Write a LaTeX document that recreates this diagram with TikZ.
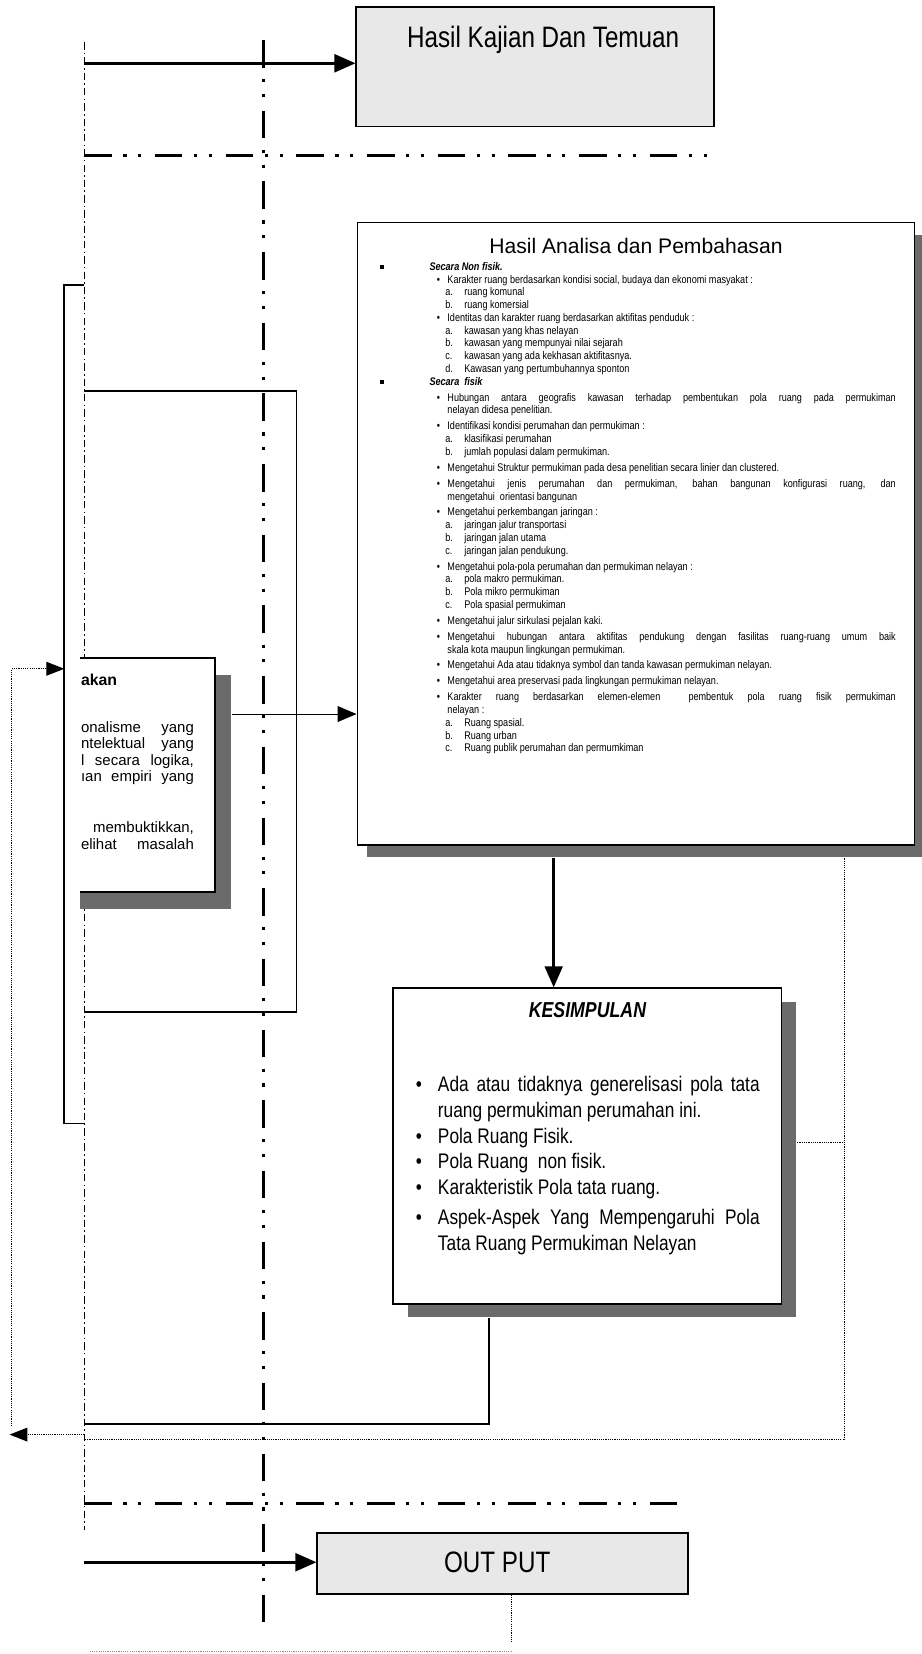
\documentclass[tikz,border=0pt]{standalone}
\usepackage{fontspec}
\setmainfont{Liberation Sans}
\newfontfamily\narrowsans{Liberation Sans}[FakeStretch=0.82]
\usetikzlibrary{arrows.meta,shadows}

\newcommand\listfont{\narrowsans\fontsize{10.5}{12.1}\selectfont\tolerance=10000\hbadness=10000}
\newcommand\kesfont{\narrowsans\fontsize{20}{24.5}\selectfont\tolerance=10000\hbadness=10000}
\newcommand\secitem[1]{\par\noindent\strut\makebox[48pt][l]{\hspace{1pt}\rule[1.5pt]{3.5pt}{3.5pt}}\textbf{\textit{#1}}}
\newcommand\dotitem[2][0pt]{\par\vspace{#1}\hangindent=65pt\hangafter=1\noindent\strut\hspace*{55pt}\makebox[10pt][l]{\textbullet}#2}
\newcommand\abcitem[2]{\par\noindent\strut\hspace*{63pt}\makebox[18pt][l]{#1}#2}
\newcommand\kesitem[2][\strut]{\par\hangindent=21pt\hangafter=1\noindent#1\makebox[21pt][l]{\textbullet}#2}
\newcommand\cutrow[1]{\leavevmode\hbox to 107pt{#1}}

\begin{document}
\begin{tikzpicture}[x=1pt,y=-1pt,
    box/.style={draw,line width=1.8pt,fill=white,inner sep=0pt,anchor=north west},
    greybox/.style={box,fill=black!9},
    dropshade/.style 2 args={drop shadow={shadow xshift=#1,shadow yshift=#2,fill=black!58,opacity=1}},
    dashdotdot/.style={line width=2.8pt,dash pattern=on 26pt off 11pt on 3pt off 11pt on 3pt off 13pt},
    cutline/.style={line width=0.6pt,dash pattern=on 7pt off 3pt on 1.5pt off 3pt},
    frameline/.style={line width=1.7pt},
    bigarrow/.style={line width=2.4pt,-{Triangle[length=20pt,width=17pt]}},
    thinarrow/.style={line width=1pt,-{Triangle[length=18pt,width=15pt]}},
    dotline/.style={line width=1.1pt,densely dotted},
    dotarrow/.style={dotline,-{Triangle[length=17pt,width=13pt]}}]
  \useasboundingbox (0,0) rectangle (874,1568);

  % lines across the sheet
  \draw[cutline] (80,40) -- (80,1450);
  \draw[dashdotdot] (80,147) -- (680,147);
  \draw[dashdotdot] (80,1425) -- (650,1425);
  \draw[dashdotdot] (250,38) -- (250,1540);

  % frames of the cut-off part
  \draw[frameline] (80,270) -- (61,270) -- (61,1065) -- (80,1065);
  \draw[frameline] (80,371) -| (281,959) -- (80,959);

  % boxes
  \node[greybox,minimum width=339pt,minimum height=113pt] (kajian) at (337,6) {};
  \node[anchor=base,font=\narrowsans\fontsize{28}{32}\selectfont] (kajianteks)
    at ([xshift=7.5pt,yshift=-39pt]kajian.north) {Hasil Kajian Dan Temuan};

  \node[box,dropshade={9pt}{-12pt},minimum width=528pt,minimum height=590pt] (analisa) at (338,210) {};
  \node[anchor=base,font=\fontsize{20}{24}\selectfont] (analisajudul)
    at ([yshift=-30pt]analisa.north) {Hasil Analisa dan Pembahasan};
  \node[anchor=north west,inner sep=0pt,text width=490pt,align=justify,font=\listfont] (analisaisi) at (359,244) {%
    \secitem{Secara Non fisik.}
    \dotitem{Karakter ruang berdasarkan kondisi social, budaya dan ekonomi masyakat :}
    \abcitem{a.}{ruang komunal}
    \abcitem{b.}{ruang komersial}
    \dotitem{Identitas dan karakter ruang berdasarkan aktifitas penduduk :}
    \abcitem{a.}{kawasan yang khas nelayan}
    \abcitem{b.}{kawasan yang mempunyai nilai sejarah}
    \abcitem{c.}{kawasan yang ada kekhasan aktifitasnya.}
    \abcitem{d.}{Kawasan yang pertumbuhannya sponton}
    \secitem{Secara\ \ fisik}
    \dotitem[3pt]{Hubungan antara geografis kawasan terhadap pembentukan pola ruang pada permukiman\linebreak nelayan didesa penelitian.}
    \dotitem[3pt]{Identifikasi kondisi perumahan dan permukiman :}
    \abcitem{a.}{klasifikasi perumahan}
    \abcitem{b.}{jumlah populasi dalam permukiman.}
    \dotitem[3pt]{Mengetahui Struktur permukiman pada desa penelitian secara linier dan clustered.}
    \dotitem[3pt]{Mengetahui jenis perumahan dan permukiman, bahan bangunan konfigurasi ruang, dan\linebreak mengetahui\ \ orientasi bangunan}
    \dotitem[3pt]{Mengetahui perkembangan jaringan :}
    \abcitem{a.}{jaringan jalur transportasi}
    \abcitem{b.}{jaringan jalan utama}
    \abcitem{c.}{jaringan jalan pendukung.}
    \dotitem[3pt]{Mengetahui pola-pola perumahan dan permukiman nelayan :}
    \abcitem{a.}{pola makro permukiman.}
    \abcitem{b.}{Pola mikro permukiman}
    \abcitem{c.}{Pola spasial permukiman}
    \dotitem[3pt]{Mengetahui jalur sirkulasi pejalan kaki.}
    \dotitem[3pt]{Mengetahui hubungan antara aktifitas pendukung dengan fasilitas ruang-ruang umum baik\linebreak skala kota maupun lingkungan permukiman.}
    \dotitem[3pt]{Mengetahui Ada atau tidaknya symbol dan tanda kawasan permukiman nelayan.}
    \dotitem[3pt]{Mengetahui area preservasi pada lingkungan permukiman nelayan.}
    \dotitem[3pt]{Karakter ruang berdasarkan elemen-elemen\ \ pembentuk pola ruang fisik permukiman\linebreak nelayan\ :}
    \abcitem{a.}{Ruang spasial.}
    \abcitem{b.}{Ruang urban}
    \abcitem{c.}{Ruang publik perumahan dan permumkiman}\par};

  \begin{scope}
    \clip (76,600) rectangle (240,880);
    \node[box,dropshade={15pt}{-16pt},minimum width=163pt,minimum height=222pt] (akanbox) at (40,623) {};
  \end{scope}
  \node[anchor=north east,inner sep=0pt,text width=108pt,align=right,font=\fontsize{14.2}{15.7}\selectfont] (akanteks) at (184,639) {%
    \cutrow{\strut\fontsize{15}{15.7}\selectfont\bfseries akan\hfill}\\[28.3pt]
    \cutrow{onalisme\hfill yang}\\
    \cutrow{ntelektual\hfill yang}\\
    \cutrow{l\hfill secara\hfill logika,}\\
    \cutrow{ıan\hfill empiri\hfill yang}\\[32.3pt]
    membuktikkan,\\
    \cutrow{elihat\hfill masalah}};

  \node[box,dropshade={14pt}{-13pt},minimum width=368pt,minimum height=299pt] (kesimpulan) at (372,936) {};
  \node[anchor=base,font=\narrowsans\bfseries\itshape\fontsize{20.5}{24}\selectfont] (kesjudul)
    at ([yshift=-29pt]kesimpulan.north) {KESIMPULAN};
  \node[anchor=north west,inner sep=0pt,text width=326pt,align=justify,font=\kesfont] (kesisi) at (394,1010) {%
    \kesitem{Ada atau tidaknya generelisasi pola tata\linebreak ruang permukiman perumahan ini.}
    \kesitem{Pola Ruang Fisik.}
    \kesitem{Pola Ruang\ \ non fisik.}
    \kesitem{Karakteristik Pola tata ruang.}
    \kesitem[\rule{0pt}{20.15pt}]{Aspek-Aspek Yang Mempengaruhi Pola\linebreak Tata Ruang Permukiman Nelayan}\par};

  \node[greybox,minimum width=351pt,minimum height=58pt] (output) at (300,1452) {};
  \node[anchor=base,font=\narrowsans\fontsize{28}{32}\selectfont] (outputteks)
    at ([xshift=-5pt,yshift=-39pt]output.north) {OUT PUT};

  % connectors
  \coordinate (kajianin) at (80,60);
  \draw[bigarrow] (kajianin) -- (kajianin -| kajian.west);
  \coordinate (akanout) at ([xshift=15pt,yshift=58pt]akanbox.east);
  \draw[thinarrow] (akanout) -- (akanout -| analisa.west);
  \draw[bigarrow] ([xshift=-78pt,yshift=-12pt]analisa.south) coordinate (turun) -- (turun |- kesimpulan.north);
  \coordinate (kiri1) at (80,1350);
  \draw[frameline] ([xshift=-93pt,yshift=-13pt]kesimpulan.south) |- (kiri1);
  \coordinate (kiri2) at (80,1365);
  \draw[dotline] ([xshift=198pt,yshift=-12pt]analisa.south) |- (kiri2);
  \draw[dotline] ([xshift=14pt,yshift=3pt]kesimpulan.east) -- ++(46,0);
  \coordinate (balik) at (80,1360);
  \coordinate (balikujung) at (9,1360);
  \draw[dotarrow] (balik) -- (balikujung);
  \coordinate (naik) at (11,1352);
  \coordinate (masuk) at (61,634);
  \draw[dotarrow] (naik) |- (masuk);
  \coordinate (outputin) at (80,1481);
  \draw[bigarrow] (outputin) -- (outputin -| output.west);
  \draw[dotline] ([xshift=8.5pt]output.south) coordinate (bawah) -- ++(0,46);
  \draw[dotline,line width=0.6pt,black!45] (85,1565) -- (bawah |- 0,1565);
\end{tikzpicture}
\end{document}
